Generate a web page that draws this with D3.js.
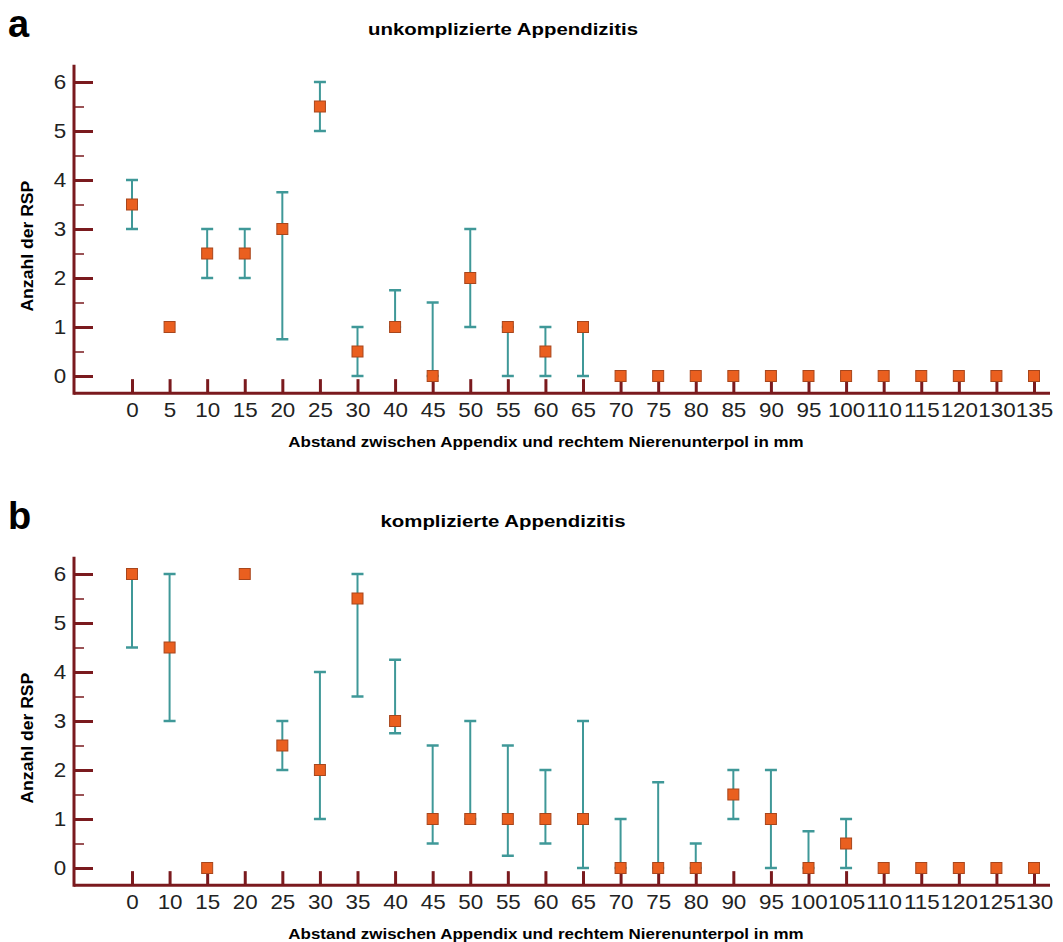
<html>
<head>
<meta charset="utf-8">
<script src="https://cdn.jsdelivr.net/npm/d3@7"></script>
<style>
  body { margin: 0; background: #fff; }
  text { font-family: "Liberation Sans", Arial, sans-serif; }
</style>
</head>
<body>
<div id="chart"></div>
<script>
// panel a: unkomplizierte Appendizitis
var catsA = ["0","5","10","15","20","25","30","40","45","50","55","60","65","70","75","80","85","90","95","100","110","115","120","130","135"];
var valsA = [3.5,1,2.5,2.5,3,5.5,0.5,1,0,2,1,0.5,1,0,0,0,0,0,0,0,0,0,0,0,0];
var loA   = [3,null,2,2,0.75,5,0,1,0,1,0,0,0,null,null,null,null,null,null,null,null,null,null,null,null];
var hiA   = [4,null,3,3,3.75,6,1,1.75,1.5,3,1,1,1,null,null,null,null,null,null,null,null,null,null,null,null];

// panel b: komplizierte Appendizitis
var catsB = ["0","10","15","20","25","30","35","40","45","50","55","60","65","70","75","80","90","95","100","105","110","115","120","125","130"];
var valsB = [6,4.5,0,6,2.5,2,5.5,3,1,1,1,1,1,0,0,0,1.5,1,0,0.5,0,0,0,0,0];
var loB   = [4.5,3,null,null,2,1,3.5,2.75,0.5,1,0.25,0.5,0,0,0,0,1,0,0,0,null,null,null,null,null];
var hiB   = [6,6,null,null,3,4,6,4.25,2.5,3,2.5,2,3,1,1.75,0.5,2,2,0.75,1,null,null,null,null,null];

var yMajor = [0,1,2,3,4,5,6];
var yMinor = [0.5,1.5,2.5,3.5,4.5,5.5];

var axisColor = "#7a1a1e", barColor = "#3f9898", markFill = "#ea5f1f", markStroke = "#a8461c";

var svg = d3.select("#chart").append("svg")
    .attr("width", 1063).attr("height", 942);

// the original lettering is a bit wider than Liberation Sans, so stretch it
function label(x, y, txt, size, sx, rot) {
  return svg.append("text")
    .attr("transform", "translate(" + x + "," + y + ")" + (rot ? " rotate(" + rot + ")" : "") + " scale(" + sx + ",1)")
    .style("text-anchor", "middle").style("font-size", size + "px").style("font-weight", "bold")
    .text(txt);
}

function panel(letter, title, cats, vals, lo, hi, top) {
  // top = pixel of value 6
  var y = d3.scaleLinear().domain([0, 6]).range([top + 294, top]);
  var x = d3.scalePoint().domain(cats).range([132, 1034]);
  var axisX = 74, axisRight = 1050;
  var baseY = y(-0.35);

  svg.append("text").attr("x", 8).attr("y", top - 45)
    .style("font-size", "38px").style("font-weight", "bold").text(letter);
  label(503, top - 47, title, 17, 1.2);
  label(33, y(2.65), "Anzahl der RSP", 16, 1.1, -90);

  // x ticks (pointing up)
  var gx = svg.append("g").attr("transform", "translate(0," + baseY + ")")
    .call(d3.axisBottom(x).tickSizeInner(-14).tickSizeOuter(0).tickPadding(10));
  gx.select(".domain").remove();
  gx.selectAll(".tick line").attr("stroke", axisColor).attr("stroke-width", 3);
  gx.selectAll(".tick text").style("font-size", "20px").attr("fill", "#222")
    .attr("transform", "scale(1.12,1)");

  // y ticks (pointing right)
  var gyMinor = svg.append("g").attr("transform", "translate(" + axisX + ",0)")
    .call(d3.axisLeft(y).tickValues(yMinor).tickSizeInner(-10).tickSizeOuter(0).tickFormat(""));
  gyMinor.select(".domain").remove();
  gyMinor.selectAll(".tick line").attr("stroke", axisColor).attr("stroke-width", 1.5);

  var gy = svg.append("g").attr("transform", "translate(" + axisX + ",0)")
    .call(d3.axisLeft(y).tickValues(yMajor).tickSizeInner(-19).tickSizeOuter(0).tickPadding(7).tickFormat(d3.format("d")));
  gy.select(".domain").remove();
  gy.selectAll(".tick line").attr("stroke", axisColor).attr("stroke-width", 3);
  gy.selectAll(".tick text").style("font-size", "20px").attr("fill", "#222")
    .attr("transform", "scale(1.12,1)");

  // axis lines
  svg.append("line").attr("x1", axisX).attr("x2", axisX)
    .attr("y1", y(6.35)).attr("y2", baseY + 1.5)
    .attr("stroke", axisColor).attr("stroke-width", 3);
  svg.append("line").attr("x1", axisX).attr("x2", axisRight)
    .attr("y1", baseY).attr("y2", baseY)
    .attr("stroke", axisColor).attr("stroke-width", 3);

  label(546, baseY + 54, "Abstand zwischen Appendix und rechtem Nierenunterpol in mm", 15, 1.13);

  var rows = cats.map(function (c, i) { return { c: c, v: vals[i], lo: lo[i], hi: hi[i] }; });
  var withBars = rows.filter(function (d) { return d.lo !== null; });

  var eb = svg.append("g").attr("stroke", barColor).attr("stroke-width", 2);
  eb.selectAll(".stem").data(withBars).enter().append("line")
    .attr("x1", function (d) { return x(d.c); }).attr("x2", function (d) { return x(d.c); })
    .attr("y1", function (d) { return y(d.lo); }).attr("y2", function (d) { return y(d.hi); });
  ["lo", "hi"].forEach(function (k) {
    eb.selectAll(".cap-" + k).data(withBars).enter().append("line")
      .attr("x1", function (d) { return x(d.c) - 6; }).attr("x2", function (d) { return x(d.c) + 6; })
      .attr("y1", function (d) { return y(d[k]); }).attr("y2", function (d) { return y(d[k]); })
      .attr("stroke-width", 2.5);
  });

  svg.append("g").selectAll("rect").data(rows).enter().append("rect")
    .attr("x", function (d) { return x(d.c) - 5.5; })
    .attr("y", function (d) { return y(d.v) - 5.5; })
    .attr("width", 11).attr("height", 11)
    .attr("fill", markFill).attr("stroke", markStroke).attr("stroke-width", 1);
}

panel("a", "unkomplizierte Appendizitis", catsA, valsA, loA, hiA, 82);
panel("b", "komplizierte Appendizitis", catsB, valsB, loB, hiB, 574);
</script>
</body>
</html>
